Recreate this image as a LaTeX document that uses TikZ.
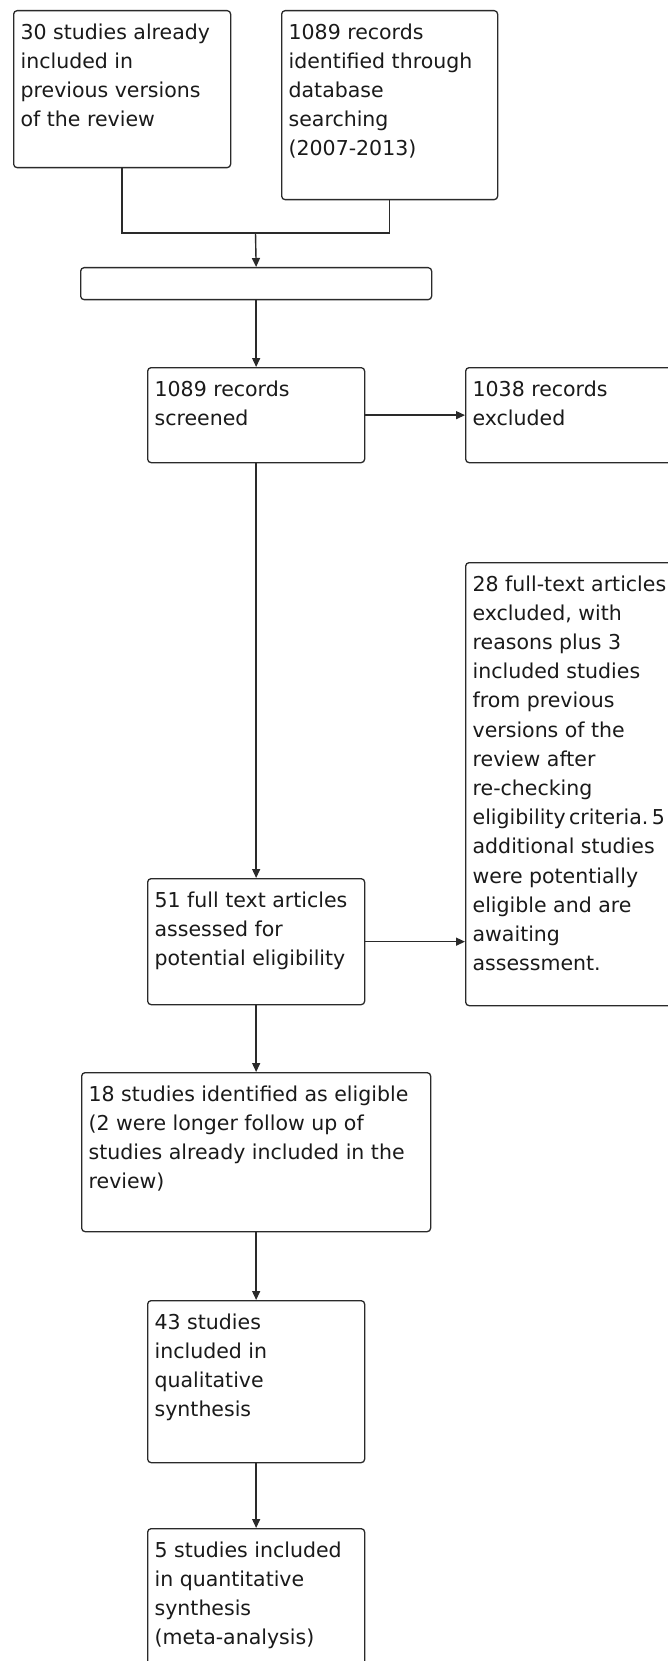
\documentclass[tikz,border=0pt]{standalone}
\usepackage{fontspec}
\setmainfont{DejaVu Sans}
\usetikzlibrary{arrows.meta}
\definecolor{linec}{HTML}{2A2A2A}
\definecolor{textc}{HTML}{1A1A1A}
\newcommand\bxt[3]{\parbox[t][#2][t]{#1}{\raggedright\strut #3}}
\begin{document}
\begin{tikzpicture}[x=1pt,y=-1pt,
  flowbox/.style={draw=linec, line width=1.3pt, rounded corners=3.5pt, fill=white,
    anchor=north west, inner xsep=7pt, inner ysep=8pt, text=textc,
    font=\fontsize{20.5pt}{29.2pt}\selectfont},
  conn/.style={draw=linec, line width=1.4pt},
  arr/.style={conn, -{Triangle[length=9pt,width=8pt]}}]
\useasboundingbox (0,0) rectangle (668,1661);
\node[flowbox, minimum width=217pt, minimum height=157pt] (A) at (13,10)
  {\bxt{203pt}{141pt}{30 studies already\\included in\\previous versions\\of the review}};
\node[flowbox, minimum width=216pt, minimum height=189pt] (B) at (281,10)
  {\bxt{202pt}{173pt}{1089 records\\identified through\\database\\searching\\(2007-2013)}};
\coordinate (m) at (255.5,233);
\node[flowbox, minimum width=351pt, minimum height=32pt, inner sep=0pt] (C) at (80,267) {};
\node[flowbox, minimum width=217pt, minimum height=95pt] (D) at (147,367)
  {\bxt{203pt}{79pt}{1089 records\\screened}};
\node[flowbox, minimum width=216pt, minimum height=95pt] (E) at (465,367)
  {\bxt{202pt}{79pt}{1038 records\\excluded}};
\node[flowbox, minimum width=216pt, minimum height=443pt] (G) at (465,562)
  {\bxt{202pt}{427pt}{28 full-text articles\\excluded, with\\reasons plus 3\\included studies\\from previous\\versions of the\\review after\\re-checking\\eligibility\hspace{3.5pt}criteria.\hspace{3.5pt}5\\additional studies\\were potentially\\eligible and are\\awaiting\\assessment.}};
\node[flowbox, minimum width=217pt, minimum height=126pt] (F) at (147,878)
  {\bxt{203pt}{110pt}{51 full text articles\\assessed for\\potential eligibility}};
\node[flowbox, minimum width=349pt, minimum height=159pt] (H) at (81,1072)
  {\bxt{335pt}{143pt}{18 studies identified as eligible\\(2 were longer follow up of\\studies already included in the\\review)}};
\node[flowbox, minimum width=217pt, minimum height=162pt] (I) at (147,1300)
  {\bxt{203pt}{146pt}{43 studies\\included in\\qualitative\\synthesis}};
\node[flowbox, minimum width=217pt, minimum height=160pt] (J) at (147,1528)
  {\bxt{203pt}{144pt}{5 studies included\\in quantitative\\synthesis\\(meta-analysis)}};
\draw[conn] (A.south) |- (m) -| (B.south);
\draw[arr] (m) -- (C.north);
\draw[arr] (C.south) -- (D.north);
\draw[arr] (D.east) -- (E.west);
\draw[arr] (D.south) -- (F.north);
\draw[arr] (F.east) -- (F.east -| G.west);
\draw[arr] (F.south) -- (H.north);
\draw[arr] (H.south) -- (I.north);
\draw[arr] (I.south) -- (J.north);
\end{tikzpicture}
\end{document}
